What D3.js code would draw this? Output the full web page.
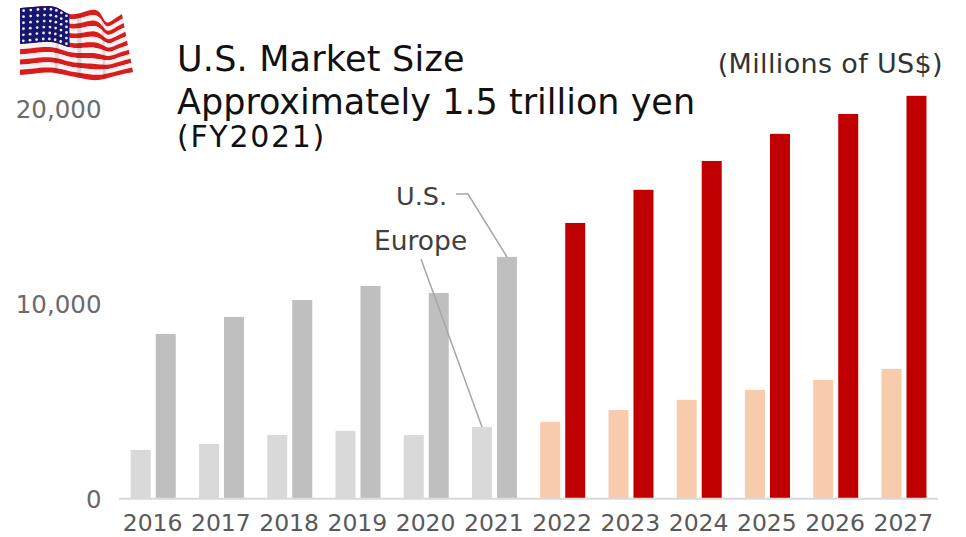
<!DOCTYPE html>
<html><head><meta charset="utf-8">
<script src="https://cdn.jsdelivr.net/npm/d3@7/dist/d3.min.js"></script>
<style>html,body{margin:0;padding:0;background:#fff}svg{display:block}text{font-family:"DejaVu Sans","Noto Sans",sans-serif}</style>
</head><body><svg id="c" width="966" height="537"></svg>
<script>
const years=["2016","2017","2018","2019","2020","2021","2022","2023","2024","2025","2026","2027"];
const europe=[2490,2800,3260,3470,3260,3670,3930,4540,5060,5570,6080,6650];
const us=[8440,9310,10180,10900,10540,12390,14130,15830,17310,18700,19720,20650];
const yTicks=[0,10000,20000];
const actualThrough="2021";
const flagTopX=[20,32,44,54,62,70,84,96,102,106,114,122];
const flagTopY=[8,7,6,6,10,16,12,8,15,25,19,14];
const flagBotX=[20,32,45,57,70,85,97,108,118,133];
const flagBotY=[75,74,72,73,76,79,81,78,75,72];
const foldX=[0.31,0.5,0.73];

const svg=d3.select("#c");
const x=d3.scaleBand().domain(years).range([119,938]);
const y=d3.scaleLinear().domain([0,20000]).range([498.5,108.5]);
const barW=20,gap=5;
const isPast=d=>d<=actualThrough;

// flag
const tx=d3.interpolateBasis(flagTopX),ty=d3.interpolateBasis(flagTopY),bx=d3.interpolateBasis(flagBotX),by=d3.interpolateBasis(flagBotY);
const P=(u,v)=>[tx(u)+(bx(u)-tx(u))*v,ty(u)+(by(u)-ty(u))*v];
const defs=svg.append("defs");
defs.append("filter").attr("id","soft").append("feGaussianBlur").attr("stdDeviation",0.45);
const fl=svg.append("g").attr("filter","url(#soft)");
const band=(u0,u1,v0,v1,fill,op)=>{const s=d3.range(0,41).map(i=>u0+(u1-u0)*i/40);
 const pts=s.map(u=>P(u,v0)).concat(s.slice().reverse().map(u=>P(u,v1)));
 fl.append("path").attr("d",d3.line().curve(d3.curveLinearClosed)(pts)).attr("fill",fill).attr("opacity",op==null?1:op);};
d3.range(13).forEach(i=>band(0,1,i/13,(i+1)/13,i%2?"#f6f3f3":"#dc1a1e"));
band(0,0.44,0,7/13,"#14126e");
d3.range(6).forEach(r=>d3.range(8).forEach(c=>{const p=P((c+.5)/8*.44,(r+.5)/6*7/13);
 fl.append("circle").attr("cx",p[0]).attr("cy",p[1]).attr("r",1.4).attr("fill","#ecebf4");}));
foldX.forEach(u=>band(u,u+.03,0,1,"#3a2020",.14));

// bars
const g=svg.append("g");
g.selectAll(".eu").data(years).join("rect").attr("class","eu")
 .attr("x",d=>x(d)+x.bandwidth()/2-barW-gap/2+.1).attr("width",barW)
 .attr("y",(d,i)=>y(europe[i])).attr("height",(d,i)=>y(0)-y(europe[i]))
 .attr("fill",d=>isPast(d)?"#d9d9d9":"#f8cbad");
g.selectAll(".us").data(years).join("rect").attr("class","us")
 .attr("x",d=>x(d)+x.bandwidth()/2+gap/2+.1).attr("width",barW)
 .attr("y",(d,i)=>y(us[i])).attr("height",(d,i)=>y(0)-y(us[i]))
 .attr("fill",d=>isPast(d)?"#bfbfbf":"#c00000");

// axes
svg.append("line").attr("x1",119).attr("x2",938).attr("y1",498.8).attr("y2",498.8).attr("stroke","#d9d9d9").attr("stroke-width",2);
svg.selectAll(".yl").data(yTicks).join("text").attr("class","yl").attr("x",101.5).attr("y",d=>y(d)+9)
 .attr("text-anchor","end").attr("font-size",24.5).attr("fill","#6b6b6b").text(d3.format(","));
svg.selectAll(".xl").data(years).join("text").attr("class","xl").attr("x",d=>x(d)+x.bandwidth()/2-.5).attr("y",531)
 .attr("text-anchor","middle").attr("font-size",23.5).attr("fill","#595959").text(d=>d);

// titles
const txt=(s,px,py,fs,fill,anchor,ls)=>svg.append("text").attr("x",px).attr("y",py).attr("font-size",fs).attr("fill",fill).attr("text-anchor",anchor||"start").attr("letter-spacing",ls||0).text(s);
txt("U.S. Market Size",177,71,35,"#111","start",.2);
txt("Approximately 1.5 trillion yen",177,114,35,"#111");
txt("(FY2021)",177,147,30,"#111","start",1.7);
txt("(Millions of US$)",943,73,27,"#333","end",.35);
txt("U.S.",396,205,25.5,"#404040");
txt("Europe",374,250,26.5,"#404040");

// leaders
const line=d3.line();
svg.append("path").attr("d",line([[456,194],[468,194],[507,257]])).attr("fill","none").attr("stroke","#a6a6a6").attr("stroke-width",1.5);
svg.append("path").attr("d",line([[421,259],[482,427]])).attr("fill","none").attr("stroke","#a6a6a6").attr("stroke-width",1.5);
</script></body></html>
